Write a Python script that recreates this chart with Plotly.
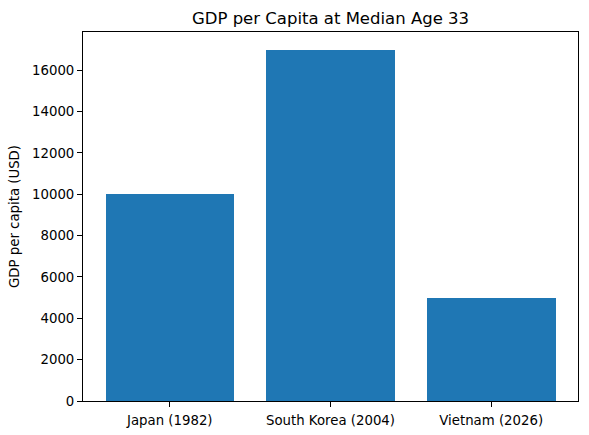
import plotly.graph_objects as go

# data
countries = ["Japan (1982)", "South Korea (2004)", "Vietnam (2026)"]
gdp_per_capita = [10000, 17000, 5000]
y_ticks = [0, 2000, 4000, 6000, 8000, 10000, 12000, 14000, 16000]

fig = go.Figure()
fig.add_trace(go.Bar(
    x=countries,
    y=gdp_per_capita,
    width=0.8,
    marker=dict(color="#1f77b4", line=dict(width=0)),
))

axis_style = dict(
    showline=True, linecolor="black", linewidth=1, mirror=True,
    ticks="outside", ticklen=5, tickcolor="black", tickwidth=1,
    showgrid=False, zeroline=False, automargin=False,
    tickfont=dict(family="DejaVu Sans", size=13.3, color="black"),
)

fig.update_layout(
    width=589, height=435,
    margin=dict(l=83, r=11, t=32, b=34),
    paper_bgcolor="white", plot_bgcolor="white",
    title=dict(text="GDP per Capita at Median Age 33", x=(83 + 578) / 2 / 589, xanchor="center",
               y=1 - 18.5 / 435, yanchor="middle",
               font=dict(family="DejaVu Sans", size=16.5, color="black")),
    showlegend=False,
    bargap=0,
    xaxis=dict(range=[-0.54, 2.54], ticklabelstandoff=2, **axis_style),
    yaxis=dict(range=[0, 17850], tickvals=y_ticks, ticktext=[str(v) for v in y_ticks],
               title=dict(text="GDP per capita (USD)", standoff=9,
                          font=dict(family="DejaVu Sans", size=13.3, color="black")),
               **axis_style),
)

# drop the browser's default body margin so the figure sits at the page corner
fig.write_html("out.html", config={"displayModeBar": False},
               post_script="document.body.style.margin='0';")
